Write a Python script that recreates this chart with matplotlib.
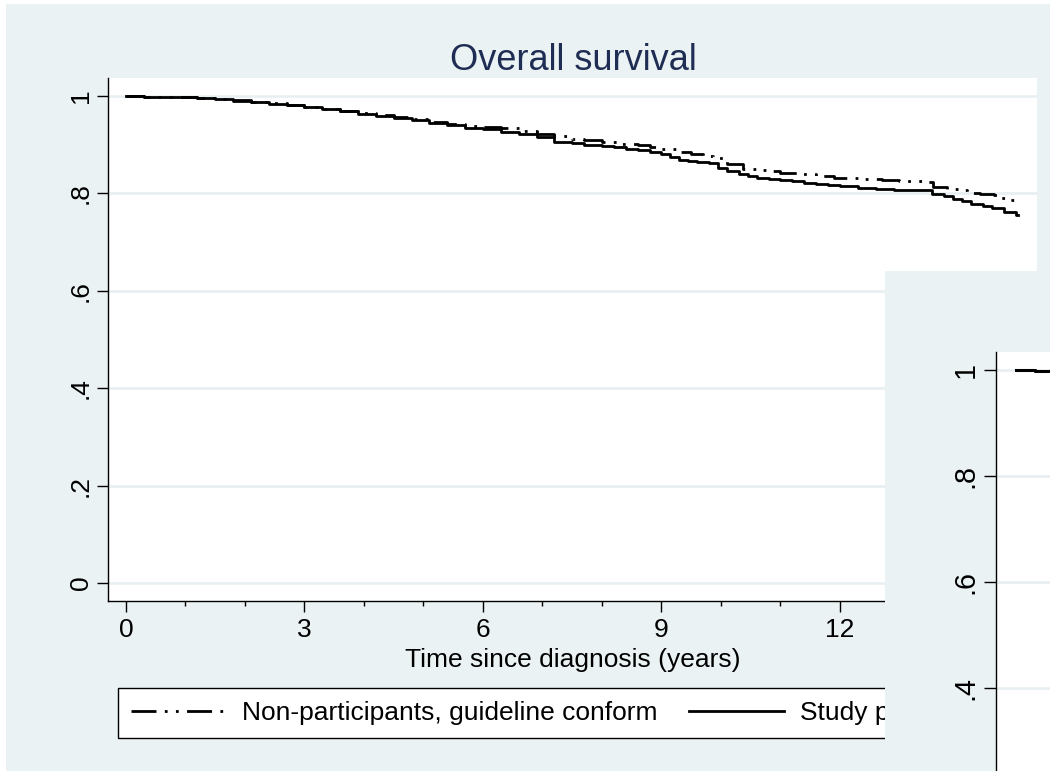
import matplotlib
matplotlib.use('Agg')
import matplotlib.pyplot as plt
from matplotlib.ticker import FixedLocator, MultipleLocator

plt.rcParams['font.family'] = ['Liberation Sans', 'DejaVu Sans']

# ---------------- data ----------------
title = "Overall survival"
xlabel = "Time since diagnosis (years)"
series_labels = ["Non-participants, guideline conform", "Study participants"]

t_nonpart = [0.0, 0.3, 0.6, 0.9, 1.2, 1.5, 1.8, 2.1, 2.4, 2.7,
             3.0, 3.3, 3.6, 3.9, 4.2, 4.5, 4.8, 5.1, 5.4, 5.7,
             6.0, 6.3, 6.6, 6.9, 7.2, 7.5, 7.7, 8.0, 8.3, 8.6,
             8.8, 9.0, 9.25, 9.5, 9.7, 9.87, 10.1, 10.37, 10.6, 10.77,
             11.0, 11.3, 11.6, 11.9, 12.3, 12.7, 13.0, 13.4, 13.57, 13.8,
             14.0, 14.13, 14.35, 14.58, 14.7, 14.85, 14.97, 15.0]
s_nonpart = [1.000, 0.999, 0.998, 0.997, 0.995, 0.993, 0.991, 0.988, 0.985, 0.982,
             0.978, 0.974, 0.970, 0.966, 0.961, 0.957, 0.952, 0.947, 0.943, 0.939,
             0.937, 0.934, 0.929, 0.923, 0.917, 0.912, 0.909, 0.905, 0.902, 0.899,
             0.896, 0.891, 0.886, 0.880, 0.876, 0.872, 0.860, 0.851, 0.848, 0.845,
             0.842, 0.839, 0.836, 0.831, 0.829, 0.827, 0.825, 0.824, 0.814, 0.810,
             0.806, 0.801, 0.799, 0.797, 0.790, 0.787, 0.784, 0.784]

t_study = [0.0, 0.3, 0.6, 0.9, 1.2, 1.5, 1.8, 2.1, 2.4, 2.7,
           3.0, 3.3, 3.6, 3.9, 4.2, 4.5, 4.8, 5.1, 5.4, 5.7,
           6.0, 6.3, 6.6, 6.9, 7.2, 7.5, 7.7, 8.0, 8.2, 8.4,
           8.6, 8.8, 9.0, 9.15, 9.3, 9.45, 9.6, 9.8, 9.95, 10.1,
           10.3, 10.45, 10.6, 10.8, 11.0, 11.2, 11.4, 11.6, 11.8, 12.0,
           12.3, 12.6, 12.9, 13.2, 13.55, 13.75, 13.9, 14.05, 14.2, 14.4,
           14.55, 14.75, 14.95, 15.0]
s_study = [1.000, 0.999, 0.998, 0.997, 0.995, 0.993, 0.990, 0.987, 0.984, 0.981,
           0.977, 0.973, 0.969, 0.964, 0.959, 0.954, 0.950, 0.945, 0.940, 0.935,
           0.932, 0.927, 0.921, 0.915, 0.906, 0.903, 0.900, 0.897, 0.895, 0.892,
           0.889, 0.886, 0.880, 0.875, 0.869, 0.867, 0.865, 0.862, 0.852, 0.846,
           0.840, 0.835, 0.831, 0.829, 0.827, 0.825, 0.822, 0.820, 0.817, 0.815,
           0.812, 0.810, 0.807, 0.806, 0.798, 0.794, 0.789, 0.784, 0.779, 0.774,
           0.770, 0.762, 0.755, 0.755]

x_major = [0, 3, 6, 9, 12, 15]
x_major_labels = ["0", "3", "6", "9", "12", "15"]
y_ticks = [0, 0.2, 0.4, 0.6, 0.8, 1.0]
y_tick_labels = ["0", ".2", ".4", ".6", ".8", "1"]

# ---------------- styling ----------------
W, H = 1050, 771
BG = '#EAF2F3'
GRID = '#E6EFF1'
TITLE_C = '#1F2D55'
FS = 19
DASH = (9, 3, 1, 3, 1, 3)


def fx(px):
    return px / W


def fy(py):
    return 1 - py / H


fig = plt.figure(figsize=(W / 100, H / 100), dpi=100)
fig.patch.set_facecolor('white')

# outer graph background
bg = fig.add_axes([fx(6), -0.01, 1.01 - fx(6), fy(4) + 0.01])
bg.set_facecolor(BG)
bg.set_xticks([]); bg.set_yticks([])
for s in bg.spines.values():
    s.set_visible(False)
bg.set_zorder(-1)


def style_axes(a, fs, scale=1.0):
    a.set_facecolor('white')
    a.spines['top'].set_visible(False)
    a.spines['right'].set_visible(False)
    a.spines['left'].set_linewidth(1.0)
    a.spines['bottom'].set_linewidth(1.0)
    a.yaxis.set_major_locator(FixedLocator(y_ticks))
    a.set_yticklabels(y_tick_labels, rotation=90, va='center', fontsize=fs)
    a.tick_params(axis='y', length=8 * scale, width=1, pad=3 * scale)
    for yv in y_ticks:
        a.axhline(yv, color=GRID, lw=1.8, zorder=0.5)


# ---------------- main panel ----------------
ax = fig.add_axes([fx(108), fy(601), fx(1037) - fx(108), fy(78) - fy(601)])
style_axes(ax, FS)
l1, = ax.plot(t_nonpart, s_nonpart, drawstyle='steps-post', color='black', lw=2,
              dashes=DASH, label=series_labels[0], zorder=3)
l2, = ax.plot(t_study, s_study, drawstyle='steps-post', color='black', lw=2,
              label=series_labels[1], zorder=3)
ax.set_xlim(-0.3025, 15.311)
ax.set_ylim(-0.037, 1.037)
ax.xaxis.set_major_locator(FixedLocator(x_major))
ax.set_xticklabels(x_major_labels, fontsize=FS)
ax.xaxis.set_minor_locator(MultipleLocator(1))
ax.tick_params(axis='x', which='major', length=8, width=1, pad=4)
ax.tick_params(axis='x', which='minor', length=3.5, width=1)
ax.set_xlabel(xlabel, fontsize=FS)
ax.xaxis.set_label_coords(0.5, -(660 - 601) / 523)
ax.xaxis.label.set_va('center')

leg = ax.legend(handles=[l1, l2], loc='upper left',
                bbox_to_anchor=(fx(118), fy(688)), bbox_transform=fig.transFigure,
                ncol=2, fontsize=FS, frameon=True, fancybox=False, framealpha=1,
                edgecolor='black', handlelength=3.6, handletextpad=0.6,
                columnspacing=1.2, borderpad=0.5, borderaxespad=0)
leg.get_frame().set_linewidth(1.0)

fig.text(fx(573), fy(61), title, ha='center', va='center', fontsize=26, color=TITLE_C)

# ---------------- overlapping second graph (inset) ----------------
bg2 = fig.add_axes([fx(885), -0.01, 1.01 - fx(885), fy(271) + 0.01])
bg2.set_facecolor(BG)
bg2.set_xticks([]); bg2.set_yticks([])
for s in bg2.spines.values():
    s.set_visible(False)
bg2.set_zorder(5)

sc = 1.088
ax2 = fig.add_axes([fx(996), 0, 1 - fx(996), fy(352)])
ax2.set_zorder(6)
style_axes(ax2, FS * sc, sc)
ax2.plot(t_nonpart, s_nonpart, drawstyle='steps-post', color='black', lw=2 * sc,
         dashes=DASH, zorder=3)
ax2.plot(t_study, s_study, drawstyle='steps-post', color='black', lw=2 * sc, zorder=3)
ax2.set_xlim(-0.303, 0.531)
ax2.set_ylim(1 - 401 / 530, 1 + 18 / 530)
ax2.set_xticks([])
ax2.spines['bottom'].set_visible(False)

fig.savefig('out.png', dpi=100, facecolor=fig.get_facecolor())
